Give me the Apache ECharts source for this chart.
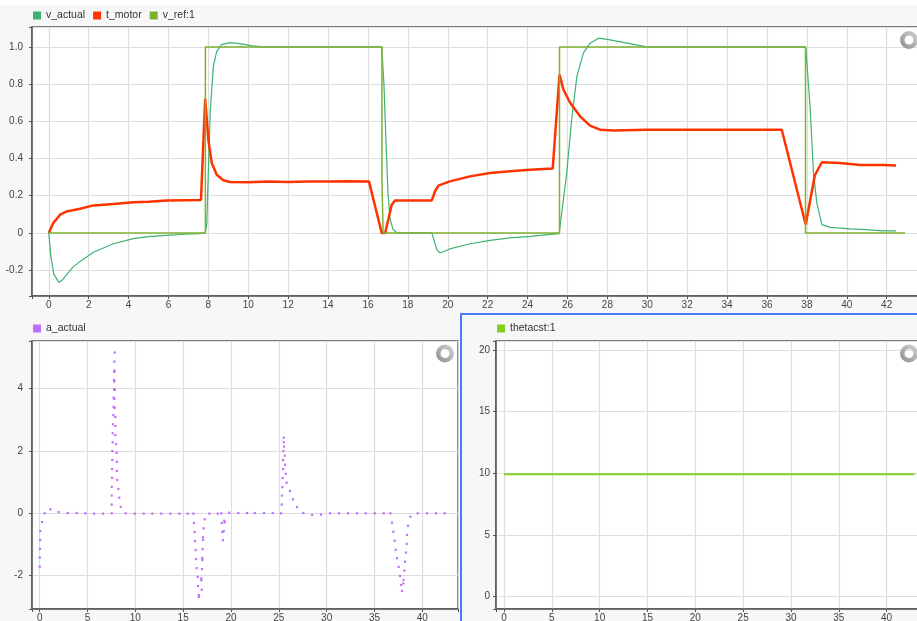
<!DOCTYPE html>
<html>
<head>
<meta charset="utf-8">
<script src="https://cdn.jsdelivr.net/npm/echarts@6/dist/echarts.min.js"></script>
<style>
html, body { margin: 0; padding: 0; background: #fff; }
#chart { width: 917px; height: 621px; }
</style>
</head>
<body>
<div id="chart"></div>
<script>
// ---- velocity tracking (top plot), time in seconds ----
const vActualTime = [0, 0.1, 0.25, 0.5, 0.7, 0.9, 1.2, 1.57, 2.24, 3.24, 4.24, 5.0, 5.9, 6.8, 7.58, 7.85,
  7.92, 8.09, 8.25, 8.42, 8.67, 9.09, 9.59, 10.2, 10.76, 16.69, 16.8, 16.9, 17.0, 17.1, 17.25, 17.45,
  19.2, 19.45, 19.61, 20.1, 21.12, 22.12, 23.12, 24.13, 25.58, 25.63, 25.96, 26.21, 26.47, 26.8, 27.13,
  27.55, 28.0, 29.97, 37.94, 38.16, 38.33, 38.5, 38.75, 39.17, 40.17, 41.0, 41.8, 42.47];
const vActualValues = [0, -0.12, -0.22, -0.266, -0.25, -0.224, -0.185, -0.153, -0.104, -0.058, -0.031, -0.02, -0.013, -0.007, -0.004, 0,
  0.05, 0.645, 0.896, 0.976, 1.012, 1.023, 1.018, 1.006, 1.0, 1.0, 0.8, 0.5, 0.22, 0.08, 0.02, 0,
  0, -0.09, -0.108, -0.086, -0.058, -0.04, -0.027, -0.018, -0.004, 0, 0.32, 0.61, 0.84, 0.968, 1.02,
  1.047, 1.04, 1.0, 1.0, 0.68, 0.32, 0.16, 0.045, 0.03, 0.022, 0.018, 0.011, 0.011];

const tMotorTime = [0, 0.23, 0.57, 0.9, 1.2, 1.57, 2.24, 3.24, 4.24, 5.0, 5.9, 6.8, 7.63, 7.84, 8.0, 8.17,
  8.42, 8.75, 9.09, 10, 11, 12, 13, 14, 15, 16.05, 16.69, 16.86, 17.02, 17.19, 17.36, 18.3, 19.2, 19.36,
  19.53, 20.1, 21.12, 22.12, 23.12, 24.13, 25.26, 25.6, 25.8, 26.13, 26.63, 27.13, 27.63, 28.3, 29.97,
  36.74, 37.94, 38.4, 38.75, 39.67, 40.67, 41.83, 42.47];
const tMotorValues = [0, 0.054, 0.098, 0.116, 0.122, 0.13, 0.148, 0.156, 0.165, 0.168, 0.174, 0.176, 0.177, 0.722, 0.5, 0.376,
  0.313, 0.283, 0.274, 0.273, 0.276, 0.274, 0.277, 0.276, 0.278, 0.277, 0, 0, 0.072, 0.152, 0.175, 0.174, 0.175, 0.224,
  0.254, 0.277, 0.304, 0.322, 0.331, 0.34, 0.346, 0.851, 0.77, 0.7, 0.627, 0.577, 0.555, 0.55, 0.555,
  0.555, 0.045, 0.31, 0.38, 0.376, 0.365, 0.365, 0.362];

const vRefTime = [0, 7.85, 7.85, 16.7, 16.7, 16.76, 16.76, 25.6, 25.6, 37.93, 37.93, 42.92];
const vRefValues = [0, 0, 1, 1, 0.285, 0.285, 0, 0, 1, 1, 0, 0];

// ---- acceleration samples (bottom-left plot) ----
const aActualTime = [0.0, 0.01, 0.03, 0.05, 0.07, 0.24, 0.52, 1.11, 1.98, 2.93, 3.87, 4.77, 5.68, 6.6,
  7.53, 7.53, 7.53, 7.53, 7.56, 7.56, 7.59, 7.59, 7.63, 7.63, 7.66, 7.7, 7.73, 7.73, 7.77, 7.77, 7.8, 7.8, 7.84,
  7.8, 7.8, 7.84, 7.8, 7.84, 7.91, 7.91, 7.91, 7.98, 8.05, 8.08, 8.08, 8.11, 8.22, 8.33, 8.47,
  8.99, 9.93, 10.87, 11.77, 12.71, 13.66, 14.6, 15.47, 16.06,
  16.13, 16.2, 16.24, 16.3, 16.34, 16.41, 16.52, 16.55, 16.62, 16.65,
  16.94, 16.9, 16.9, 16.97, 17.0, 17.0, 17.04, 17.07, 17.07, 17.14, 17.25,
  17.73, 18.61, 18.99, 19.03, 19.09, 19.16, 19.24, 19.3, 19.34, 19.82, 20.76, 21.67, 22.48, 23.45, 24.36, 25.23,
  25.3, 25.33, 25.37, 25.4, 25.44, 25.44, 25.47, 25.51, 25.51, 25.54, 25.61, 25.65, 25.72, 25.82, 26.17, 26.48, 26.9,
  27.56, 28.47, 29.41, 30.35, 31.29, 32.23, 33.17, 34.08, 35.02, 35.96, 36.66,
  36.83, 36.97, 37.11, 37.22, 37.35, 37.53, 37.67, 37.77, 37.88,
  38.02, 38.05, 38.12, 38.19, 38.29, 38.37, 38.4, 38.5, 38.75,
  39.52, 40.49, 41.43, 42.34];
const aActualValues = [-1.71, -1.42, -1.14, -0.86, -0.57, -0.28, 0, 0.13, 0.04, 0.01, 0.01, 0, -0.01, -0.01,
  0, 0.28, 0.57, 0.85, 1.14, 1.42, 1.71, 2.0, 2.28, 2.57, 2.86, 3.15, 3.42, 3.71, 3.98, 4.28, 4.58, 4.87, 5.16,
  4.54, 4.23, 3.96, 3.67, 3.38, 3.09, 2.8, 2.51, 2.22, 1.94, 1.65, 1.36, 1.07, 0.78, 0.5, 0.21,
  0, -0.01, -0.01, -0.01, -0.01, -0.01, -0.01, -0.01, -0.01,
  -0.31, -0.6, -0.89, -1.18, -1.47, -1.76, -2.04, -2.33, -2.62, -2.68,
  -2.45, -2.15, -2.09, -1.79, -1.5, -1.43, -1.15, -0.85, -0.77, -0.48, -0.19,
  -0.01, -0.01, 0, -0.31, -0.6, -0.86, -0.57, -0.24, -0.29, 0.02, 0.01, 0.01, 0.01, 0.01, 0.01, 0,
  0.28, 0.57, 0.84, 1.13, 1.42, 1.71, 2.0, 2.28, 2.43, 2.14, 1.85, 1.56, 1.27, 0.98, 0.72, 0.45, 0.2,
  0.01, -0.05, -0.04, 0, 0, 0, 0, 0, 0, 0, 0,
  -0.3, -0.59, -0.88, -1.17, -1.44, -1.72, -2.01, -2.3, -2.49,
  -2.25, -2.14, -1.84, -1.55, -1.26, -0.98, -0.69, -0.4, -0.11,
  0, 0, 0, 0];

// ---- theta setpoint (bottom-right plot) ----
const thetaTime = [0, 42.92];
const thetaValues = [9.93, 9.93];

const seriesNames = ['v_actual', 't_motor', 'v_ref:1', 'a_actual', 'thetacst:1'];
const seriesColors = ['#3cb371', '#ff3300', '#80b132', '#b24cff', '#7ed321'];

const pairs = (xs, ys) => xs.map((x, i) => [x, ys[i]]);

const FONT = 'Liberation Sans, Arial, sans-serif';
const GRID_LINE = '#dddddd';
const FRAME = '#555555';

// keeps only labels that fall on the tick step
function stepLabel(step, fmt) {
  return function (v) {
    const k = v / step;
    if (Math.abs(k - Math.round(k)) > 1e-6) return '';
    return fmt ? fmt(v) : String(Math.round(v));
  };
}

function axis(gridIndex, min, max, splitNumber, step, fmt, margin) {
  return {
    type: 'value',
    gridIndex: gridIndex,
    min: min,
    max: max,
    splitNumber: splitNumber,
    axisLine: { show: true, onZero: false, lineStyle: { color: FRAME, width: 1.5 } },
    axisTick: { show: true, length: 3, lineStyle: { color: FRAME, width: 1 } },
    axisLabel: {
      margin: margin,
      color: '#444',
      fontSize: 10,
      fontFamily: FONT,
      formatter: stepLabel(step, fmt)
    },
    splitLine: { show: true, lineStyle: { color: GRID_LINE, width: 1.2 } }
  };
}

function spinner(cx, cy, r, r0) {
  return {
    type: 'ring',
    z: 100,
    shape: { cx: cx, cy: cy, r: r, r0: r0 },
    style: {
      fill: new echarts.graphic.LinearGradient(1, 0, 0, 1, [
        { offset: 0, color: '#d6d6d6' },
        { offset: 1, color: '#8a8a8a' }
      ])
    }
  };
}

const legendBase = {
  orient: 'horizontal',
  padding: 0,
  icon: 'rect',
  itemWidth: 8,
  itemHeight: 8,
  itemGap: 8,
  textStyle: { fontSize: 10.5, color: '#333', fontFamily: FONT }
};

const gridBase = {
  show: true,
  backgroundColor: '#fff',
  borderColor: FRAME,
  borderWidth: 1.5,
  containLabel: false,
  outerBoundsMode: 'none'
};

const option = {
  animation: false,
  backgroundColor: 'transparent',
  graphic: [
    { type: 'rect', z: -10, shape: { x: 0, y: 5, width: 917, height: 616 }, style: { fill: '#f7f7f7' } },
    { type: 'rect', z: -9, shape: { x: 461, y: 314, width: 470, height: 320 },
      style: { fill: '#f7f7f7', stroke: '#4a7bff', lineWidth: 2 } },
    spinner(909, 40, 9, 4.5),
    spinner(445, 353.5, 9, 4.5),
    spinner(909, 353.5, 9, 4.5)
  ],
  legend: [
    Object.assign({}, legendBase, { data: seriesNames.slice(0, 3), left: 33, top: 10 }),
    Object.assign({}, legendBase, { data: [seriesNames[3]], left: 33, top: 323 }),
    Object.assign({}, legendBase, { data: [seriesNames[4]], left: 497, top: 323 })
  ],
  grid: [
    Object.assign({}, gridBase, { left: 32, top: 27, width: 889, height: 269 }),
    Object.assign({}, gridBase, { left: 32, top: 341, width: 426, height: 268 }),
    Object.assign({}, gridBase, { left: 496, top: 341, width: 426, height: 268 })
  ],
  xAxis: [
    axis(0, -0.84, 43.72, 20, 2, null, 4),
    axis(1, -0.805, 43.73, 8, 5, null, 4),
    axis(2, -0.84, 43.7, 8, 5, null, 4)
  ],
  yAxis: [
    axis(0, -0.339, 1.107, 7, 0.2, v => (Math.abs(v) < 1e-9 ? '0' : v.toFixed(1)), 9),
    axis(1, -3.07, 5.53, 4, 2, null, 9),
    axis(2, -1.0, 20.73, 4, 5, null, 6)
  ],
  series: [
    {
      name: seriesNames[0], type: 'line', xAxisIndex: 0, yAxisIndex: 0,
      data: pairs(vActualTime, vActualValues), showSymbol: false,
      itemStyle: { color: seriesColors[0] }, lineStyle: { color: seriesColors[0], width: 1.2 }
    },
    {
      name: seriesNames[1], type: 'line', xAxisIndex: 0, yAxisIndex: 0,
      data: pairs(tMotorTime, tMotorValues), showSymbol: false,
      itemStyle: { color: seriesColors[1] }, lineStyle: { color: seriesColors[1], width: 2.5 }
    },
    {
      name: seriesNames[2], type: 'line', xAxisIndex: 0, yAxisIndex: 0,
      data: pairs(vRefTime, vRefValues), showSymbol: false,
      itemStyle: { color: seriesColors[2] }, lineStyle: { color: seriesColors[2], width: 1.5 }
    },
    {
      name: seriesNames[3], type: 'scatter', xAxisIndex: 1, yAxisIndex: 1,
      data: pairs(aActualTime, aActualValues), symbol: 'rect', symbolSize: 2.2,
      itemStyle: { color: seriesColors[3] }
    },
    {
      name: seriesNames[4], type: 'line', xAxisIndex: 2, yAxisIndex: 2,
      data: pairs(thetaTime, thetaValues), showSymbol: false,
      itemStyle: { color: seriesColors[4] }, lineStyle: { color: seriesColors[4], width: 2 }
    }
  ]
};

const chart = echarts.init(document.getElementById('chart'), null, { renderer: 'canvas' });
chart.setOption(option);
</script>
</body>
</html>
